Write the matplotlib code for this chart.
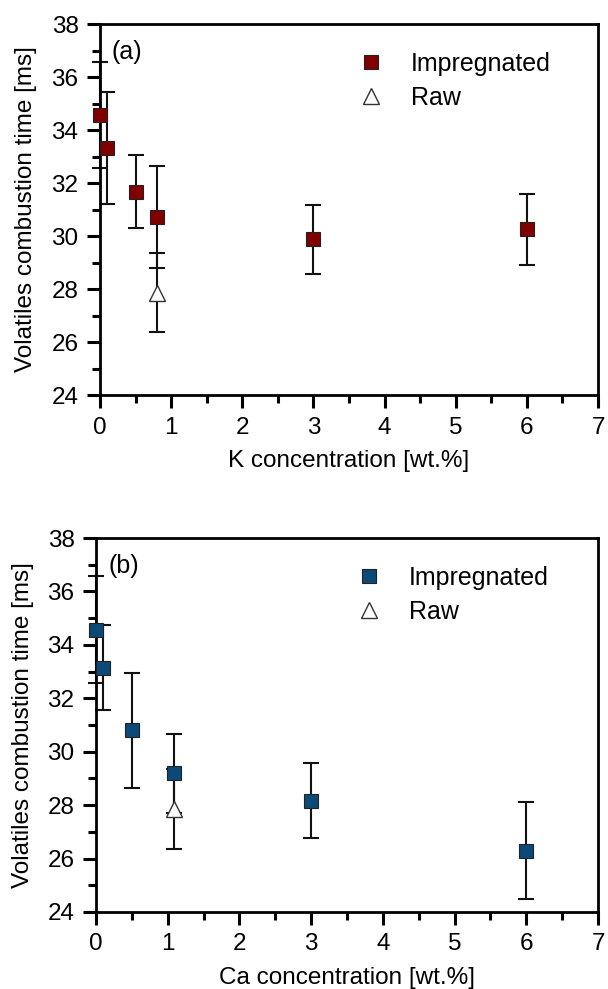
import matplotlib
matplotlib.use('Agg')
import matplotlib.pyplot as plt
from matplotlib.ticker import MultipleLocator

plt.rcParams['font.family'] = ['Liberation Sans', 'DejaVu Sans']

# panel (a): K
k_x = [0.0, 0.1, 0.5, 0.8, 3.0, 6.0]
k_y = [34.57, 33.32, 31.67, 30.73, 29.88, 30.25]
k_err = [2.0, 2.1, 1.37, 1.92, 1.3, 1.33]
k_raw_x = [0.8]
k_raw_y = [27.86]
k_raw_err = [1.5]

# panel (b): Ca
ca_x = [0.0, 0.1, 0.5, 1.08, 3.0, 6.0]
ca_y = [34.57, 33.15, 30.8, 29.19, 28.17, 26.3]
ca_err = [2.0, 1.6, 2.15, 1.47, 1.39, 1.8]
ca_raw_x = [1.08]
ca_raw_y = [27.87]
ca_raw_err = [1.5]

fig = plt.figure(figsize=(6.08, 9.89), dpi=100)
ax1 = fig.add_axes([0.1645, 0.6006, 0.8191, 0.3751])
ax2 = fig.add_axes([0.158, 0.0779, 0.8256, 0.3781])


def panel(ax, x, y, err, rx, ry, rerr, color, xlabel, tag):
    ekw = dict(fmt='none', ecolor='#111111', elinewidth=1.5, capsize=6, capthick=1.5, zorder=2, clip_on=False)
    ax.errorbar(x, y, yerr=err, **ekw)
    ax.errorbar(rx, ry, yerr=rerr, **ekw)
    ax.plot(x, y, 's', ms=9.5, mfc=color, mec='#222222', mew=0.8, ls='none',
            label='Impregnated', zorder=3, clip_on=False)
    ax.plot(rx, ry, '^', ms=12, mfc='white', mec='#333333', mew=1.0, ls='none',
            label='Raw', zorder=3, clip_on=False)
    ax.set_xlim(0, 7)
    ax.set_ylim(24, 38)
    ax.xaxis.set_major_locator(MultipleLocator(1))
    ax.xaxis.set_minor_locator(MultipleLocator(0.5))
    ax.yaxis.set_major_locator(MultipleLocator(2))
    ax.yaxis.set_minor_locator(MultipleLocator(1))
    ax.tick_params(which='major', direction='out', length=9.5, width=2.2, labelsize=17.5, pad=6)
    ax.tick_params(which='minor', direction='out', length=6, width=2.2)
    for s in ax.spines.values():
        s.set_linewidth(2)
    ax.set_xlabel(xlabel, fontsize=17.5, labelpad=8)
    ax.set_ylabel('Volatiles combustion time [ms]', fontsize=17.5, labelpad=10)
    ax.text(0.024, 0.925, tag, transform=ax.transAxes, fontsize=18, va='center', ha='left')
    ax.legend(loc='upper left', bbox_to_anchor=(0.464, 0.985), frameon=False, fontsize=18,
              handletextpad=0.9, labelspacing=0.4, handlelength=1.4)


panel(ax1, k_x, k_y, k_err, k_raw_x, k_raw_y, k_raw_err, '#800000', 'K concentration [wt.%]', '(a)')
panel(ax2, ca_x, ca_y, ca_err, ca_raw_x, ca_raw_y, ca_raw_err, '#0b4a78', 'Ca concentration [wt.%]', '(b)')

fig.savefig('out.png', dpi=100)
